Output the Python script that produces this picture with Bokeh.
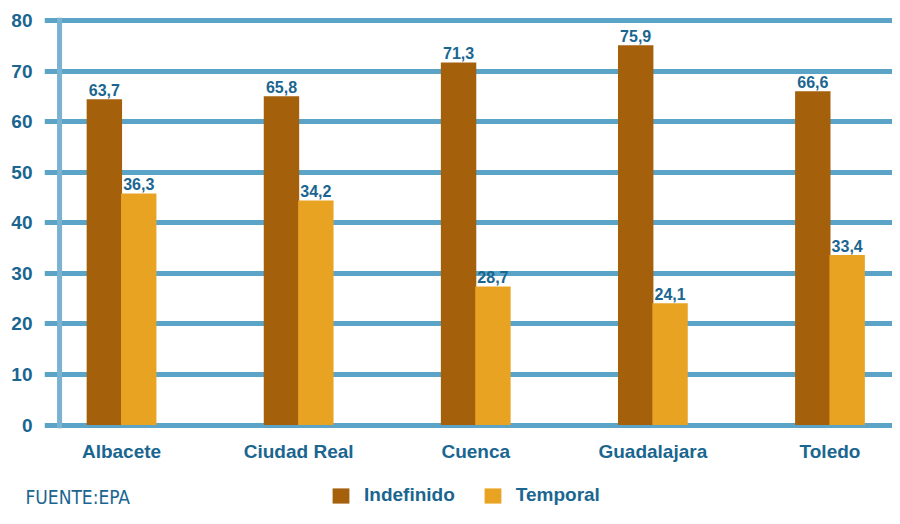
import numpy as np
from bokeh.plotting import figure
from bokeh.layouts import column
from bokeh.models import (Range1d, FixedTicker, Span, Legend, LegendItem, Label,
                          ColumnDataSource, CDSView, IndexFilter)
from bokeh.core.properties import value
from bokeh.embed import file_html
from bokeh.resources import INLINE

# ---- data ----
provinces = ["Albacete", "Ciudad Real", "Cuenca", "Guadalajara", "Toledo"]
series_names = ["Indefinido", "Temporal"]
indefinido = [64.4, 65.0, 71.7, 75.1, 66.0]          # bar heights as drawn
temporal = [45.8, 44.4, 27.4, 24.1, 33.6]            # bar heights as drawn
indefinido_labels = ["63,7", "65,8", "71,3", "75,9", "66,6"]
temporal_labels = ["36,3", "34,2", "28,7", "24,1", "33,4"]
y_ticks = [0, 10, 20, 30, 40, 50, 60, 70, 80]
source_note = "FUENTE:EPA"

# ---- style ----
C_IND = "#a5600c"
C_TMP = "#e9a323"
C_TXT = "#1a6690"
C_GRID = "#5ba4c7"
C_VLINE = "#7ab3d1"
FONT = "Liberation Sans"
FS = "19px"
W = 892

idx = np.arange(len(provinces))
off = 0.097
bw = 0.2

src = ColumnDataSource(dict(
    x_ind=idx - off, x_tmp=idx + off,
    ind=indefinido, tmp=temporal,
    ind_lab=indefinido_labels, tmp_lab=temporal_labels,
))

p = figure(width=W, height=468,
           x_range=Range1d(-0.435, 4.353), y_range=Range1d(-0.69, 80.59),
           output_backend="svg", toolbar_location=None,
           min_border_left=44, min_border_right=0, min_border_top=17, min_border_bottom=40)
p.frame_align = False
p.outline_line_color = None
p.background_fill_color = "white"
p.border_fill_color = "white"

# grid
p.xgrid.visible = False
p.ygrid.ticker = FixedTicker(ticks=y_ticks)
p.ygrid.grid_line_color = C_GRID
p.ygrid.grid_line_width = 5

# vertical axis line
p.add_layout(Span(location=-0.35, dimension="height", line_color=C_VLINE, line_width=5))

p.vbar(x="x_ind", top="ind", bottom=0, width=bw, source=src, fill_color=C_IND, line_color=None)
p.vbar(x="x_tmp", top="tmp", bottom=0, width=bw, source=src, fill_color=C_TMP, line_color=None)

for xc, yc, tc in (("x_ind", "ind", "ind_lab"), ("x_tmp", "tmp", "tmp_lab")):
    p.text(x=xc, y=yc, text=tc, source=src, text_align="center", text_baseline="alphabetic",
           y_offset=-9, text_font=value(FONT), text_font_style="bold",
           text_font_size="16px", text_color=C_TXT)

# axes
ya = p.yaxis[0]
ya.ticker = FixedTicker(ticks=y_ticks)
ya.axis_line_color = None
ya.major_tick_line_color = None
ya.minor_tick_line_color = None
ya.major_tick_out = 0
ya.major_tick_in = 0
ya.major_label_standoff = 12
ya.major_label_text_font = FONT
ya.major_label_text_font_style = "bold"
ya.major_label_text_font_size = FS
ya.major_label_text_color = C_TXT

xa = p.xaxis[0]
xa.ticker = FixedTicker(ticks=list(idx))
xa.major_label_overrides = {int(i): name for i, name in zip(idx, provinces)}
xa.axis_line_color = None
xa.major_tick_line_color = None
xa.minor_tick_line_color = None
xa.major_tick_out = 0
xa.major_tick_in = 0
xa.major_label_standoff = 12
xa.major_label_text_font = FONT
xa.major_label_text_font_style = "bold"
xa.major_label_text_font_size = FS
xa.major_label_text_color = C_TXT

# ---- bottom strip: legend and source ----
# its ranges lie far from the data, so the key glyphs below draw nothing visible
q = figure(width=W, height=40, x_range=Range1d(1000, 1001), y_range=Range1d(1000, 1001),
           output_backend="svg", toolbar_location=None, x_axis_type=None, y_axis_type=None,
           min_border_left=0, min_border_right=0, min_border_top=0, min_border_bottom=0)
q.frame_align = False
q.outline_line_color = None
q.xgrid.visible = False
q.ygrid.visible = False
q.border_fill_color = "white"

k_ind = q.vbar(x="x_ind", top="ind", bottom=0, width=bw, source=src,
               view=CDSView(filter=IndexFilter(indices=[0])),
               fill_color=C_IND, line_color=None)
k_tmp = q.vbar(x="x_tmp", top="tmp", bottom=0, width=bw, source=src,
               view=CDSView(filter=IndexFilter(indices=[0])),
               fill_color=C_TMP, line_color=None)

legend = Legend(items=[LegendItem(label=series_names[0], renderers=[k_ind]),
                       LegendItem(label=series_names[1], renderers=[k_tmp])],
                location=(330, 2), orientation="horizontal",
                glyph_width=21, glyph_height=19, label_standoff=13, spacing=27,
                padding=0, margin=0, border_line_color=None, background_fill_alpha=0,
                label_text_font=FONT, label_text_font_style="bold",
                label_text_font_size=FS, label_text_color=C_TXT)
q.add_layout(legend, "center")

q.add_layout(Label(x=25, y=12, x_units="screen", y_units="screen", text=source_note,
                   text_font="'DejaVu Sans Condensed', 'Liberation Sans Narrow', 'Liberation Sans'",
                   text_font_size="19px", text_color=C_TXT, text_baseline="alphabetic"))

layout = column(p, q, spacing=0)
open("out.html", "w").write(file_html(layout, INLINE))
